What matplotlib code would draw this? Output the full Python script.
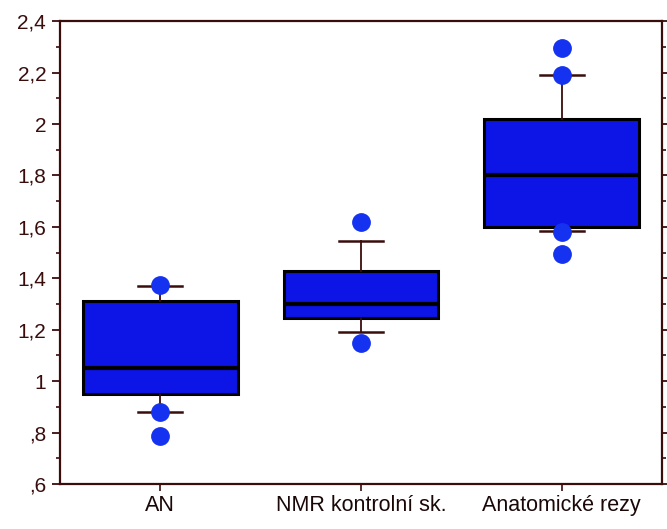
import matplotlib.pyplot as plt
from matplotlib.ticker import MultipleLocator, FuncFormatter

# groups and box statistics
groups = ["AN", "NMR kontrolní sk.", "Anatomické rezy"]
q1 = [0.95, 1.245, 1.60]
med = [1.05, 1.30, 1.80]
q3 = [1.31, 1.43, 2.02]
whislo = [0.88, 1.19, 1.585]
whishi = [1.37, 1.545, 2.19]
dots = [[1.375, 0.88, 0.785], [1.62, 1.15], [2.295, 2.19, 1.58, 1.495]]

ink = "#3a0d0d"
plt.rcParams['font.family'] = ['Liberation Sans', 'DejaVu Sans']

fig = plt.figure(figsize=(6.67, 5.29), dpi=100)
ax = fig.add_axes([0.09, 0.085, 0.9025, 0.875])

stats = []
for i, name in enumerate(groups):
    stats.append(dict(label=name, q1=q1[i], med=med[i], q3=q3[i],
                      whislo=whislo[i], whishi=whishi[i], fliers=dots[i]))

ax.bxp(stats, positions=[1, 2, 3], widths=0.77, patch_artist=True,
       boxprops=dict(facecolor="#0c14e6", edgecolor="black", linewidth=2.2),
       medianprops=dict(color="black", linewidth=3),
       whiskerprops=dict(color=ink, linewidth=1.3),
       capprops=dict(color=ink, linewidth=1.8),
       capwidths=0.22,
       flierprops=dict(marker="o", markersize=12.5, markerfacecolor="#1432f0",
                       markeredgecolor="#1432f0"))

ax.set_xlim(0.5, 3.5)
ax.set_ylim(0.6, 2.4)
ax.yaxis.set_major_locator(MultipleLocator(0.2))
ax.yaxis.set_minor_locator(MultipleLocator(0.1))


def comma_fmt(v, pos):
    s = ("%.1f" % v).replace(".", ",")
    if s.endswith(",0"):
        s = s[:-2]
    if s.startswith("0,"):
        s = s[1:]
    return s


ax.yaxis.set_major_formatter(FuncFormatter(comma_fmt))
ax.tick_params(axis="y", which="major", length=6, width=1.3, color=ink,
               labelsize=15, labelcolor=ink, pad=4)
ax.tick_params(axis="y", which="minor", length=3, width=1.2, color=ink)
ax.tick_params(axis="y", which="both", right=True)
ax.tick_params(axis="x", length=5, width=1.2, color=ink, labelsize=15.5,
               labelcolor="#1a0808", pad=3)
for s in ax.spines.values():
    s.set_color(ink)
    s.set_linewidth(1.6)

fig.savefig("out.png", dpi=100)
